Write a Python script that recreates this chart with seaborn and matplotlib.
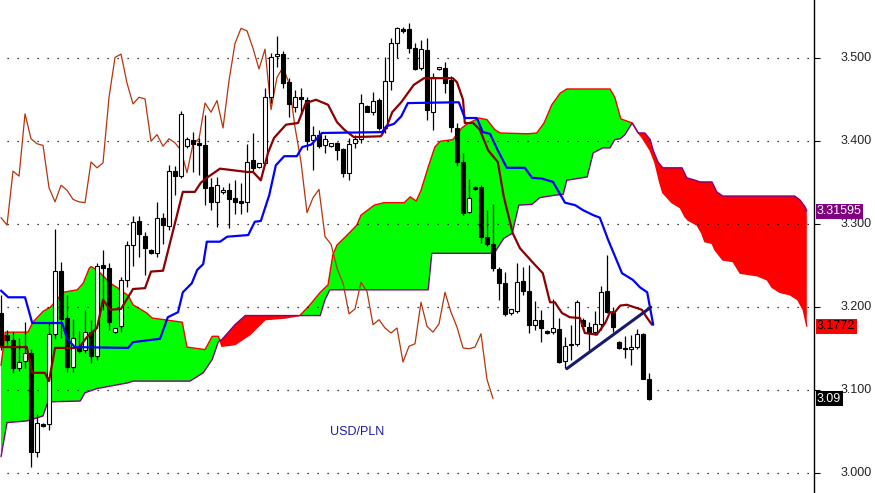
import numpy as np
import matplotlib
matplotlib.use("Agg")
import matplotlib.pyplot as plt
import seaborn as sns

# USD/PLN daily candles (bar index = position on the x axis)
opens = [3.193, 3.167, 3.161, 3.127, 3.135, 3.145, 3.026, 3.059, 3.059, 3.168,
         3.244, 3.187, 3.128, 3.151, 3.148, 3.170, 3.141, 3.251, 3.247, 3.170,
         3.177, 3.233, 3.275, 3.304, 3.286, 3.269, 3.265, 3.308, 3.298, 3.364,
         3.358, 3.394, 3.401, 3.398, 3.395, 3.345, 3.327, 3.339, 3.341, 3.332,
         3.328, 3.327, 3.377, 3.369, 3.374, 3.453, 3.503, 3.505, 3.471, 3.441,
         3.453, 3.450, 3.401, 3.408, 3.396, 3.394, 3.398, 3.391, 3.362, 3.398,
         3.403, 3.443, 3.435, 3.450, 3.416, 3.473, 3.518, 3.535, 3.535, 3.512,
         3.488, 3.510, 3.435, 3.487, 3.488, 3.474, 3.416, 3.375, 3.315, 3.345,
         3.345, 3.285, 3.276, 3.246, 3.229, 3.193, 3.196, 3.232, 3.220, 3.179,
         3.185, 3.171, 3.170, 3.174, 3.135, 3.155, 3.156, 3.185, 3.176, 3.170,
         3.180, 3.220, 3.193, 3.158, 3.151, 3.150, 3.152, 3.168, 3.113]
highs = [3.215, 3.173, 3.170, 3.163, 3.182, 3.150, 3.071, 3.061, 3.181, 3.294,
         3.255, 3.215, 3.186, 3.171, 3.197, 3.185, 3.253, 3.269, 3.253, 3.175,
         3.236, 3.280, 3.310, 3.310, 3.291, 3.270, 3.327, 3.314, 3.371, 3.370,
         3.437, 3.405, 3.411, 3.404, 3.432, 3.356, 3.357, 3.345, 3.350, 3.353,
         3.350, 3.397, 3.410, 3.374, 3.464, 3.506, 3.527, 3.509, 3.476, 3.462,
         3.464, 3.453, 3.418, 3.414, 3.408, 3.398, 3.399, 3.392, 3.404, 3.408,
         3.457, 3.444, 3.459, 3.452, 3.502, 3.524, 3.538, 3.538, 3.543, 3.518,
         3.522, 3.524, 3.482, 3.489, 3.496, 3.479, 3.422, 3.386, 3.355, 3.346,
         3.347, 3.317, 3.324, 3.248, 3.242, 3.198, 3.253, 3.249, 3.251, 3.208,
         3.197, 3.173, 3.210, 3.187, 3.164, 3.179, 3.209, 3.187, 3.182, 3.196,
         3.226, 3.263, 3.200, 3.159, 3.165, 3.167, 3.174, 3.169, 3.121]
lows = [3.148, 3.155, 3.121, 3.123, 3.127, 3.008, 3.020, 3.056, 3.052, 3.162,
        3.163, 3.122, 3.122, 3.145, 3.145, 3.133, 3.137, 3.197, 3.173, 3.169,
        3.170, 3.224, 3.250, 3.261, 3.239, 3.264, 3.261, 3.276, 3.293, 3.335,
        3.356, 3.392, 3.363, 3.359, 3.323, 3.317, 3.297, 3.336, 3.296, 3.312,
        3.312, 3.315, 3.363, 3.368, 3.371, 3.446, 3.489, 3.464, 3.429, 3.435,
        3.434, 3.389, 3.365, 3.392, 3.386, 3.393, 3.377, 3.357, 3.353, 3.392,
        3.398, 3.435, 3.432, 3.414, 3.410, 3.462, 3.500, 3.530, 3.506, 3.486,
        3.486, 3.426, 3.414, 3.486, 3.458, 3.411, 3.370, 3.311, 3.314, 3.341,
        3.277, 3.274, 3.244, 3.209, 3.189, 3.191, 3.193, 3.215, 3.169, 3.173,
        3.158, 3.168, 3.168, 3.133, 3.127, 3.137, 3.153, 3.173, 3.148, 3.167,
        3.173, 3.193, 3.170, 3.150, 3.139, 3.130, 3.150, 3.113, 3.088]
closes = [3.155, 3.161, 3.127, 3.134, 3.145, 3.026, 3.061, 3.057, 3.168, 3.244,
          3.186, 3.128, 3.163, 3.147, 3.170, 3.141, 3.250, 3.247, 3.182, 3.175,
          3.233, 3.275, 3.303, 3.288, 3.271, 3.265, 3.308, 3.299, 3.364, 3.358,
          3.433, 3.403, 3.397, 3.395, 3.344, 3.327, 3.347, 3.341, 3.330, 3.327,
          3.326, 3.375, 3.368, 3.374, 3.453, 3.501, 3.505, 3.470, 3.445, 3.453,
          3.451, 3.400, 3.408, 3.394, 3.403, 3.398, 3.389, 3.362, 3.397, 3.403,
          3.446, 3.435, 3.449, 3.416, 3.473, 3.518, 3.536, 3.533, 3.512, 3.487,
          3.511, 3.438, 3.477, 3.489, 3.470, 3.417, 3.375, 3.314, 3.332, 3.342,
          3.285, 3.276, 3.247, 3.229, 3.192, 3.198, 3.230, 3.219, 3.179, 3.185,
          3.175, 3.169, 3.175, 3.134, 3.153, 3.156, 3.206, 3.177, 3.170, 3.180,
          3.218, 3.194, 3.176, 3.151, 3.150, 3.152, 3.168, 3.113, 3.090]

# Ichimoku lines (vertices: bar position, price)
tenkan_x = [0.0, 4.3, 5.2, 7.3, 8.0, 9.0, 13.0, 14.3, 16.0, 17.0, 18.2, 20.0, 22.0, 24.0, 25.0,
            27.0, 30.3, 32.3, 33.3, 34.5, 36.5, 41.0, 42.0, 43.3, 44.5, 45.5, 47.5, 49.5, 50.8,
            52.5, 54.5, 56.0, 57.2, 58.8, 63.3, 64.2, 65.2, 66.7, 68.8, 70.5, 75.3, 76.0, 77.0,
            77.3, 78.7, 79.8, 81.2, 82.8, 83.8, 85.3, 86.5, 88.5, 90.3, 91.5, 92.3, 93.5, 94.8,
            96.5, 97.3, 99.3, 100.7, 101.5, 102.3, 103.2, 104.3, 106.0, 106.8, 107.7, 108.5]
tenkan = [3.152, 3.152, 3.121, 3.121, 3.111, 3.151, 3.151, 3.164, 3.175, 3.209, 3.197, 3.198,
          3.222, 3.223, 3.243, 3.244, 3.339, 3.339, 3.350, 3.357, 3.367, 3.363, 3.363, 3.353,
          3.386, 3.404, 3.420, 3.422, 3.446, 3.450, 3.444, 3.423, 3.414, 3.405, 3.406, 3.416,
          3.435, 3.447, 3.468, 3.476, 3.476, 3.471, 3.450, 3.422, 3.422, 3.414, 3.389, 3.375,
          3.333, 3.289, 3.271, 3.255, 3.241, 3.206, 3.206, 3.193, 3.188, 3.187, 3.169, 3.167,
          3.181, 3.194, 3.194, 3.202, 3.203, 3.199, 3.197, 3.187, 3.179]

kijun_x = [0.0, 1.2, 4.0, 5.2, 10.2, 11.0, 12.3, 21.2, 22.0, 26.5, 27.8, 29.5, 30.3, 31.8, 32.7,
           33.7, 34.3, 36.5, 37.7, 41.2, 42.3, 43.3, 44.7, 45.8, 47.2, 49.3, 50.2, 51.7, 53.5,
           63.5, 64.2, 65.5, 66.7, 67.8, 76.3, 77.3, 79.3, 80.3, 81.5, 82.8, 84.3, 87.3, 88.5,
           90.2, 92.0, 94.0, 95.7, 97.0, 98.7, 99.8, 101.2, 103.5, 105.3, 106.5, 107.7, 108.7]
kijun = [3.220, 3.212, 3.212, 3.181, 3.181, 3.162, 3.152, 3.151, 3.158, 3.162, 3.188, 3.194,
         3.218, 3.229, 3.245, 3.252, 3.279, 3.279, 3.285, 3.287, 3.303, 3.304, 3.335, 3.371,
         3.382, 3.382, 3.393, 3.396, 3.410, 3.411, 3.418, 3.421, 3.430, 3.446, 3.447, 3.428,
         3.428, 3.411, 3.409, 3.389, 3.368, 3.368, 3.356, 3.355, 3.351, 3.326, 3.323, 3.317,
         3.311, 3.308, 3.281, 3.241, 3.233, 3.224, 3.218, 3.179]

span_a_x = [0.0, 0.7, 4.5, 5.3, 7.0, 8.2, 9.3, 10.3, 12.7, 13.7, 14.7, 15.0, 16.0, 17.0, 18.2,
            19.5, 21.2, 22.0, 24.3, 25.2, 30.2, 31.0, 34.0, 35.2, 36.2, 36.5, 36.8, 39.0, 41.5,
            44.0, 47.3, 49.8, 51.5, 53.2, 54.5, 55.3, 56.0, 57.7, 59.3, 60.0, 62.2, 63.8, 67.2,
            68.2, 69.2, 70.0, 71.2, 72.3, 73.2, 75.3, 76.8, 77.7, 79.7, 81.0, 82.3, 83.2, 87.8,
            89.3, 90.5, 91.8, 93.2, 94.3, 101.5, 102.3, 103.3, 105.2, 106.2, 106.8, 108.2, 109.0,
            109.8, 110.3, 111.8, 113.2, 114.0, 114.5, 116.0, 116.8, 117.3, 118.5, 119.0, 120.3,
            122.0, 123.2, 126.0, 127.7, 128.5, 129.8, 131.5, 132.8, 133.7, 134.3]
span_a = [3.130, 3.170, 3.170, 3.182, 3.195, 3.200, 3.209, 3.218, 3.221, 3.229, 3.247, 3.249,
          3.245, 3.238, 3.229, 3.223, 3.214, 3.203, 3.193, 3.187, 3.182, 3.152, 3.149, 3.165,
          3.165, 3.160, 3.153, 3.155, 3.167, 3.185, 3.187, 3.190, 3.203, 3.218, 3.227, 3.263,
          3.275, 3.287, 3.299, 3.311, 3.323, 3.326, 3.326, 3.333, 3.328, 3.341, 3.369, 3.393,
          3.400, 3.402, 3.416, 3.421, 3.428, 3.426, 3.414, 3.410, 3.409, 3.410, 3.422, 3.444,
          3.458, 3.463, 3.463, 3.453, 3.427, 3.422, 3.410, 3.405, 3.389, 3.374, 3.350, 3.338,
          3.326, 3.320, 3.309, 3.305, 3.299, 3.289, 3.279, 3.277, 3.269, 3.257, 3.255, 3.241,
          3.238, 3.233, 3.224, 3.218, 3.215, 3.209, 3.197, 3.1772]

span_b_x = [0.0, 1.0, 4.3, 7.0, 7.8, 13.2, 14.0, 16.0, 21.2, 22.0, 31.5, 33.7, 35.2, 36.2, 36.5,
            36.8, 39.0, 40.7, 49.8, 53.2, 54.0, 54.8, 71.2, 71.8, 82.2, 83.8, 85.2, 86.3, 88.5,
            89.8, 92.3, 93.7, 94.3, 97.7, 98.7, 100.3, 101.5, 102.3, 103.2, 104.0, 105.2, 106.2,
            107.3, 108.2, 108.7, 109.5, 110.3, 113.5, 114.3, 115.7, 116.5, 118.5, 119.3, 120.3,
            132.3, 133.2, 134.0, 134.3]
span_b = [3.020, 3.061, 3.063, 3.069, 3.086, 3.087, 3.097, 3.102, 3.109, 3.111, 3.111, 3.121,
          3.137, 3.158, 3.160, 3.161, 3.179, 3.190, 3.190, 3.190, 3.209, 3.221, 3.221, 3.265,
          3.265, 3.283, 3.289, 3.323, 3.324, 3.332, 3.335, 3.336, 3.353, 3.357, 3.386, 3.392,
          3.392, 3.402, 3.403, 3.408, 3.422, 3.410, 3.410, 3.402, 3.389, 3.375, 3.368, 3.368,
          3.356, 3.353, 3.351, 3.351, 3.339, 3.334, 3.334, 3.329, 3.321, 3.31595]

# cloud segments (start, end, colour) between the two spans
cloud_segments = [(0.0, 36.5, "#00ff00"), (36.5, 49.8, "#ff0000"),
                  (49.8, 105.2, "#00ff00"), (106.2, 134.3, "#ff0000")]

trend_x = [94.3, 108.3]
trend_y = [3.126, 3.200]

lag = 26
price_levels = [3.0, 3.1, 3.2, 3.3, 3.4, 3.5]
price_tags = [(3.31595, "3.31595", "#800080", "white"),
              (3.1772, "3.1772", "#ff0000", "black"),
              (3.09, "3.09", "black", "white")]

sns.set_style("white")
plt.rcParams["font.family"] = ["Liberation Sans", "DejaVu Sans"]

fig = plt.figure(figsize=(8.75, 4.93), dpi=100)
ax = fig.add_axes([0, 0, 814 / 875, 1])

# kumo
for x0, x1, col in cloud_segments:
    pa = [(x, y) for x, y in zip(span_a_x, span_a) if x0 <= x <= x1]
    pb = [(x, y) for x, y in zip(span_b_x, span_b) if x0 <= x <= x1]
    poly = pa + pb[::-1]
    ax.fill([p[0] for p in poly], [p[1] for p in poly], color=col, lw=0, zorder=1)
sns.lineplot(x=span_a_x, y=span_a, ax=ax, color="#ff0000", lw=1.0, sort=False,
             estimator=None, zorder=2)
sns.lineplot(x=span_b_x, y=span_b, ax=ax, color="#800080", lw=1.0, sort=False,
             estimator=None, zorder=2)

for lv in price_levels:
    ax.axhline(lv, xmin=7 / 814, color="black", lw=0.9, ls=(0, (1, 7)), zorder=2.5)

# chikou span: closes drawn 26 bars back
bars = np.arange(len(closes))
sns.lineplot(x=bars[lag:] - lag, y=closes[lag:], ax=ax, color="#b5340c", lw=0.9,
             sort=False, estimator=None, zorder=3)

# candles
o = np.array(opens); c = np.array(closes)
ax.vlines(bars, lows, highs, color="black", lw=0.9, zorder=4)
up = c >= o
body_h = np.maximum(np.abs(c - o), 0.0012)
ax.bar(bars[up], body_h[up], bottom=o[up], width=0.78, color="white",
       edgecolor="black", lw=0.8, zorder=5)
ax.bar(bars[~up], body_h[~up], bottom=c[~up], width=0.78, color="black",
       edgecolor="black", lw=0.8, zorder=5)

sns.lineplot(x=tenkan_x, y=tenkan, ax=ax, color="#8b0000", lw=1.6, sort=False,
             estimator=None, zorder=6)
sns.lineplot(x=kijun_x, y=kijun, ax=ax, color="#0000ff", lw=1.6, sort=False,
             estimator=None, zorder=6)
ax.plot(trend_x, trend_y, color="#191970", lw=2.2, zorder=7, solid_capstyle="round")

ax.text(59.3, 3.050, "USD/PLN", color="#1a1aa8", fontsize=9, ha="center",
        va="center", zorder=8)

ax.set_xlim(-0.17, 135.5)
ax.set_ylim(2.9762, 3.5702)
for s in ["left", "top", "bottom"]:
    ax.spines[s].set_visible(False)
ax.spines["right"].set_color("black")
ax.spines["right"].set_linewidth(1)
ax.set_xticks([])
ax.yaxis.tick_right()
ax.set_yticks(price_levels)
ax.set_yticklabels([])
ax.tick_params(axis="y", length=4.5, width=0.8, color="black")
ax.set_xlabel("")
ax.set_ylabel("")

ytr = ax.get_yaxis_transform()
for lv in price_levels:
    ax.text(872 / 814, lv, f"{lv:.3f}", transform=ytr, ha="right", va="center",
            fontsize=9, color="#222222", clip_on=False)
for val, txt, bg, fg in price_tags:
    ax.text(817 / 814, val, txt, transform=ytr, ha="left", va="center", fontsize=9,
            color=fg, clip_on=False, zorder=10,
            bbox=dict(boxstyle="square,pad=0.12", fc=bg, ec="none"))

fig.savefig("out.png", dpi=100)
